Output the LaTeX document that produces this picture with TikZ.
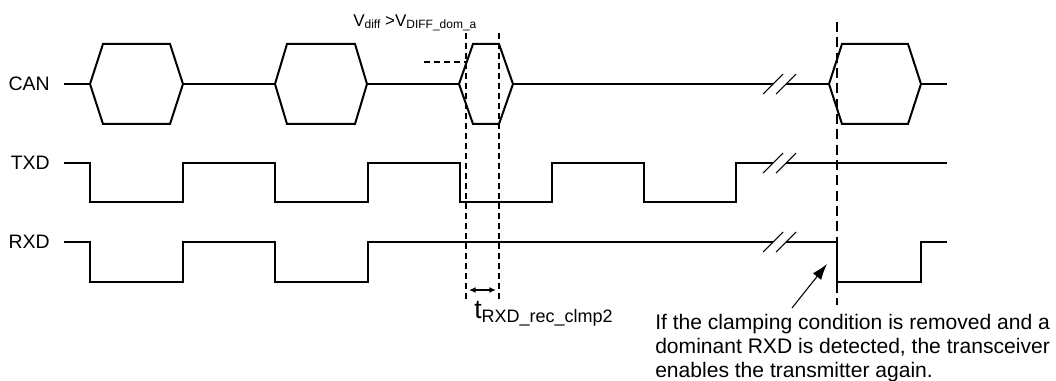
\documentclass[tikz,border=0pt]{standalone}
\usepackage{fontspec}
\setmainfont{Liberation Sans}
\usetikzlibrary{arrows.meta}

% lowered small text for the signal names
\newcommand{\vsub}[1]{\raisebox{-1.5pt}{\fontsize{9}{9}\selectfont #1}}
\newcommand{\tsub}[1]{\raisebox{-3pt}{\fontsize{13.5}{13.5}\selectfont #1}}

\begin{document}
\begin{tikzpicture}[x=0.75pt,y=-0.75pt,
    sig/.style={line width=1.5pt,line join=miter,line cap=butt},
    brk/.style={line width=0.8pt},
    guide/.style={line width=1.5pt,dash pattern=on 4.5pt off 3pt},
    marker/.style={line width=0.9pt,dash pattern=on 7.5pt off 4pt},
    lbl/.style={inner sep=0pt,font=\fontsize{14.6}{16}\selectfont}]
        % \draw[help lines] (0,0) grid (1056,381);
      \useasboundingbox (0,0) rectangle (1056,381);

      \node[lbl, anchor=east] (can) at (50,84)  {CAN};
      \node[lbl, anchor=east] (txd) at (50,163) {TXD};
      \node[lbl, anchor=east] (rxd) at (50,242) {RXD};

      % CAN bus
      \foreach \a/\b/\s in {90/183/13, 275/367/12, 459/513/14, 829/921/13}
        \draw[sig] (\a,84) -- (\a+\s,44) -- (\b-\s,44) -- (\b,84)
                   -- (\b-\s,124) -- (\a+\s,124) -- cycle;
      \draw[sig] (64,84) -- (90,84)  (183,84) -- (275,84)  (367,84) -- (459,84)
                 (513,84) -- (773,84)  (786,84) -- (829,84)  (921,84) -- (947,84);

      % TXD
      \draw[sig] (64,163) -| (90,202) -| (183,163) -| (275,202) -| (368,163)
                 -| (460,202) -| (552,163) -| (644,202) -| (736,163) -- (773,163);
      \draw[sig] (786,163) -- (947,163);

      % RXD
      \draw[sig] (64,242) -| (90,282) -| (183,242) -| (275,282) -| (368,242)
                 -- (773,242);
      \draw[sig] (786,242) -| (837,282) -| (921,242) -- (947,242);

      % breaks
      \foreach \y in {84,163,242} {
        \draw[brk] (763,\y+10) -- (783,\y-10);
        \draw[brk] (776,\y+10) -- (796,\y-10);
      }

      % clamping window
      \draw[guide] (466,33) -- (466,302)  (499,33) -- (499,302)  (424,62) -- (466,62);
      \draw[marker] (837,22) -- (837,305);

      \coordinate (wl) at (469,290);
      \coordinate (wr) at (496,290);
      \draw[line width=1pt, {Latex[length=5pt,width=4.5pt]}-{Latex[length=5pt,width=4.5pt]}] (wl) -- (wr);

      \node[inner sep=0pt, anchor=base west, font=\fontsize{12.75}{14}\selectfont]
            (vdiff) at (353,27) {V\vsub{diff} >V\vsub{DIFF\_dom\_a}};
      \node[inner sep=0pt, anchor=base west, font=\fontsize{20}{20}\selectfont]
            (trec) at (474,318) {t\tsub{RXD\_rec\_clmp2}};

      \node[inner sep=0pt, anchor=north west, align=left,
            font=\fontsize{15.8}{18}\selectfont] (note) at (655,314)
            {If the clamping condition is removed and a\\
             dominant RXD is detected, the transceiver\\
             enables the transmitter again.};

      \coordinate (tail) at (792,308);
      \coordinate (tip)  at (827,264);
      \draw[line width=0.8pt, -{Latex[length=12pt,width=8pt]}] (tail) -- (tip);
    \end{tikzpicture}
\end{document}
